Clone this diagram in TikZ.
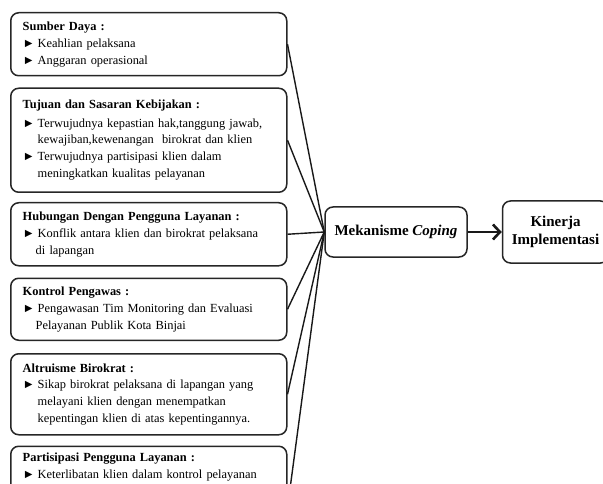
\documentclass[tikz,border=0pt]{standalone}
\usepackage{fontspec}
\setmainfont{Liberation Serif}
\usepackage{tikz}
\usetikzlibrary{arrows.meta,positioning}
\newcommand{\bul}{\makebox[15pt][l]{►}}
\newcommand{\ind}{\hspace*{15pt}}

\begin{document}
\begin{tikzpicture}[
    x=1pt,y=-1pt,
    box/.style={rectangle,rounded corners=8pt,draw=black!85,line width=1.5pt,
                text width=252pt,inner xsep=12pt,inner ysep=5pt,align=left,
                font=\fontsize{12.4}{16.8}\selectfont},
    mid/.style={rectangle,rounded corners=8pt,draw=black!85,line width=1.5pt,
                align=center,font=\fontsize{15}{18}\selectfont\bfseries},
    ln/.style={line width=1.4pt,black!90},
    arr/.style={-{Straight Barb[length=7pt,width=15pt]},line width=2.6pt,black!90},
]
\useasboundingbox (0,0) rectangle (603,484);

\node[box,minimum height=63pt,anchor=north west] (b1) at (10,12)
  {\textbf{Sumber Daya :}\\
   \bul Keahlian pelaksana\\
   \bul Anggaran operasional};
\node[box,minimum height=104pt,below=11pt of b1] (b2)
  {\textbf{Tujuan dan Sasaran Kebijakan :}\\[1.5pt]
   \bul Terwujudnya kepastian hak,tanggung jawab,\\
   \ind kewajiban,kewenangan\ \ birokrat dan klien\\
   \bul Terwujudnya partisipasi klien dalam\\
   \ind meningkatkan kualitas pelayanan};
\node[box,minimum height=63pt,below=9pt of b2] (b3)
  {\textbf{Hubungan Dengan Pengguna Layanan :}\\
   \bul Konflik antara klien dan birokrat pelaksana\\
   \hspace*{13pt}di lapangan};
\node[box,minimum height=62pt,below=11pt of b3] (b4)
  {\textbf{Kontrol Pengawas :}\\
   \bul Pengawasan Tim Monitoring dan Evaluasi\\
   \hspace*{13pt}Pelayanan Publik Kota Binjai};
\node[box,minimum height=81pt,below=12pt of b4] (b5)
  {\textbf{Altruisme Birokrat :}\\
   \bul Sikap birokrat pelaksana di lapangan yang\\
   \ind melayani klien dengan menempatkan\\
   \ind kepentingan\ klien di atas kepentingannya.};
\node[box,inner ysep=7pt,text depth=100pt,below=10pt of b5] (b6)
  {\textbf{Partisipasi Pengguna Layanan :}\\
   \bul Keterlibatan klien dalam kontrol pelayanan};

\node[mid,minimum width=142pt,minimum height=50pt] (mek) at (396,232)
  {Mekanisme \textit{Coping}};
\node[mid,minimum width=106pt,minimum height=62pt,right=34pt of mek] (kin)
  {Kinerja\\Implementasi};

\draw[ln] (b1.east) -- (mek.west);
\draw[ln] (b2.east) -- (mek.west);
\draw[ln] (b3.east) -- (mek.west);
\draw[ln] (b4.east) -- (mek.west);
\draw[ln] (b5.east) -- (mek.west);
\draw[ln] (b6.east) -- (mek.west);

\draw[arr] (mek) -- (kin);

\end{tikzpicture}
\end{document}
